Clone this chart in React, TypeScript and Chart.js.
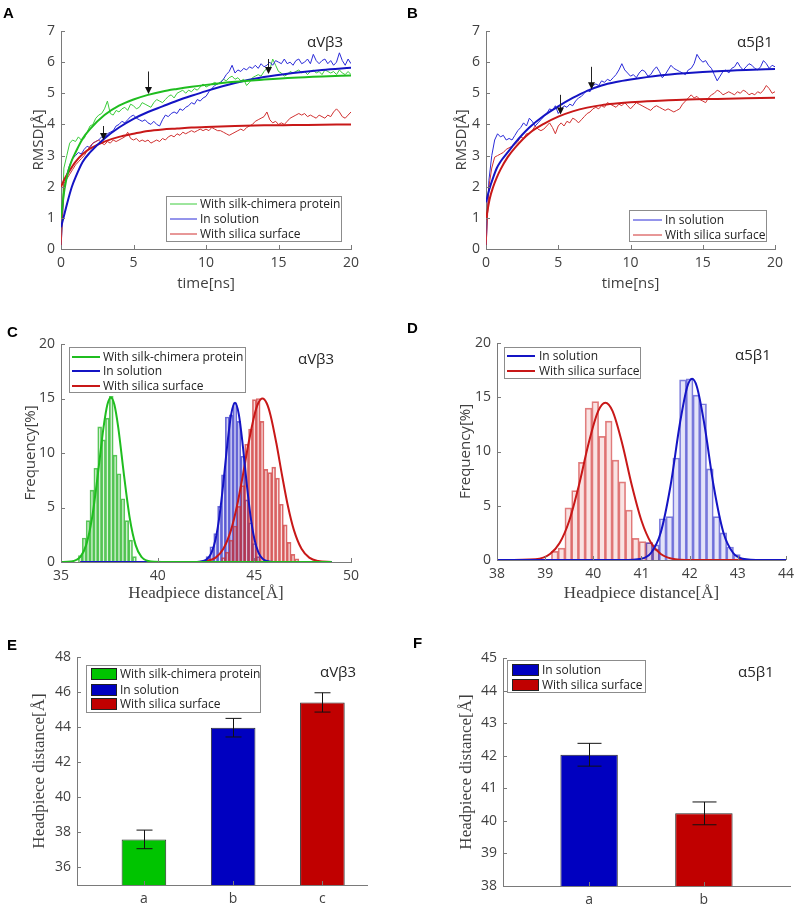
import React, { useEffect, useRef } from "react";
import { Chart, registerables } from "chart.js";

Chart.register(...registerables);

// ---------------- text ----------------
const SERIES_SILK = "With silk-chimera protein";
const SERIES_SOL = "In solution";
const SERIES_SILICA = "With silica surface";
const TAG_V3 = "αVβ3";
const TAG_51 = "α5β1";
const TITLE_TIME = "time[ns]";
const TITLE_RMSD = "RMSD[Å]";
const TITLE_FREQ = "Frequency[%]";
const TITLE_DIST = "Headpiece distance[Å]";

// ---------------- ticks ----------------
const timeTicks = [0, 5, 10, 15, 20];
const rmsdTicks = [0, 1, 2, 3, 4, 5, 6, 7];
const freqTicks = [0, 5, 10, 15, 20];
const distTicksC = [35, 40, 45, 50];
const distTicksD = [38, 39, 40, 41, 42, 43, 44];
const headTicksE = [36, 38, 40, 42, 44, 46, 48];
const headTicksF = [38, 39, 40, 41, 42, 43, 44, 45];
const barPosE = [1, 2, 3];
const barLabelsE = ["a", "b", "c"];
const barPosF = [1, 2];
const barLabelsF = ["a", "b"];

// ---------------- A / B : RMSD time series ----------------
const time = [
  0, 0.2, 0.4, 0.6, 0.8, 1, 1.2, 1.4, 1.6, 1.8,
  2, 2.2, 2.4, 2.6, 2.8, 3, 3.2, 3.4, 3.6, 3.8,
  4, 4.2, 4.4, 4.6, 4.8, 5, 5.2, 5.4, 5.6, 5.8,
  6, 6.2, 6.4, 6.6, 6.8, 7, 7.2, 7.4, 7.6, 7.8,
  8, 8.2, 8.4, 8.6, 8.8, 9, 9.2, 9.4, 9.6, 9.8,
  10, 10.2, 10.4, 10.6, 10.8, 11, 11.2, 11.4, 11.6, 11.8,
  12, 12.2, 12.4, 12.6, 12.8, 13, 13.2, 13.4, 13.6, 13.8,
  14, 14.2, 14.4, 14.6, 14.8, 15, 15.2, 15.4, 15.6, 15.8,
  16, 16.2, 16.4, 16.6, 16.8, 17, 17.2, 17.4, 17.6, 17.8,
  18, 18.2, 18.4, 18.6, 18.8, 19, 19.2, 19.4, 19.6, 19.8,
  20,
];

const rawSilkA = [
  0, 2.6, 3.0, 3.4, 3.5, 3.45, 3.6, 3.5, 3.55, 3.75,
  3.95, 4.0, 4.2, 4.3, 4.35, 4.5, 4.75, 4.35, 4.3, 4.45,
  4.4, 4.5, 4.55, 4.45, 4.65, 4.6, 4.5, 4.55, 4.7, 4.65,
  4.6, 4.55, 4.7, 4.8, 4.75, 4.7, 4.8, 4.9, 4.95, 4.85,
  5.0, 5.05, 5.1, 5.0, 5.1, 5.05, 5.15, 5.1, 5.2, 5.3,
  5.2, 5.25, 5.3, 5.35, 5.3, 5.35, 5.45, 5.4, 5.5, 5.55,
  5.45, 5.5, 5.4, 5.45, 5.25, 5.35, 5.5, 5.55, 5.6, 5.55,
  5.7, 5.8, 5.75, 6.1, 5.9, 5.7, 5.65, 5.55, 5.6, 5.7,
  5.65, 5.7, 5.75, 5.65, 5.7, 5.6, 5.7, 5.75, 5.65, 5.7,
  5.6, 5.75, 5.7, 5.65, 5.7, 5.6, 5.75, 5.65, 5.6, 5.7,
  5.6,
];
const rawSolA = [
  0, 1.9, 2.4, 2.7, 2.9, 3.0, 3.1, 3.05, 3.2, 3.3,
  3.25, 3.4, 3.45, 3.5, 3.6, 3.55, 3.7, 3.75, 3.8, 3.95,
  4.0, 4.1, 4.05, 4.15, 4.25, 4.3, 4.2, 4.15, 4.1, 4.15,
  4.05, 4.0, 4.1, 4.0, 3.95, 4.15, 4.3, 4.25, 4.35, 4.4,
  4.35, 4.5, 4.45, 4.55, 4.6, 4.7, 4.65, 4.8, 4.75, 4.85,
  4.9, 5.05, 5.15, 5.25, 5.3, 5.35, 5.45, 5.6, 5.7, 5.9,
  5.65, 5.75, 5.7, 5.8, 5.75, 5.85, 5.8, 5.9, 5.8, 5.95,
  5.85, 5.9, 6.0, 5.9, 6.05, 6.0, 5.95, 6.1, 5.95, 6.0,
  5.9, 6.05, 6.1, 5.95, 6.0, 6.1, 5.95, 6.25, 6.05, 5.95,
  6.05, 6.1, 5.95, 6.05, 5.9, 6.0, 6.3, 6.05, 5.9, 6.1,
  5.95,
];
const rawSilicaA = [
  0, 2.1, 2.25, 2.4, 2.55, 2.7, 2.8, 2.9, 3.0, 3.15,
  3.3, 3.4, 3.45, 3.5, 3.4, 3.35, 3.45, 3.4, 3.5, 3.45,
  3.5, 3.55, 3.6, 3.75, 3.55, 3.5, 3.55, 3.45, 3.5, 3.45,
  3.5, 3.4, 3.45, 3.5, 3.45, 3.55, 3.5, 3.6, 3.65, 3.6,
  3.7, 3.65, 3.75, 3.7, 3.75, 3.8, 3.75, 3.8, 3.85, 3.8,
  3.85, 3.8, 3.9, 3.85, 3.8, 3.8, 3.75, 3.7, 3.65, 3.7,
  3.75, 3.8, 3.85, 3.8, 3.9, 3.95, 4.0, 4.1, 4.15, 4.2,
  4.25, 4.4, 4.15, 4.05, 4.1, 4.0, 4.05, 4.0, 4.1, 4.2,
  4.25, 4.3, 4.35, 4.3, 4.35, 4.25, 4.3, 4.25, 4.2, 4.3,
  4.25, 4.2, 4.3, 4.25, 4.4, 4.5, 4.4, 4.25, 4.2, 4.3,
  4.4,
];
const rawSolB = [
  0, 2.2, 3.0, 3.5, 3.7, 3.6, 3.65, 3.5, 3.55, 3.5,
  3.65, 3.8, 3.9, 4.05, 3.95, 4.2, 4.1, 3.95, 4.05, 4.15,
  4.25, 4.35, 4.5, 4.45, 4.6, 4.35, 4.5, 4.6, 4.55, 4.65,
  4.6, 4.75, 4.85, 4.9, 5.0, 5.1, 5.05, 5.25, 5.3, 5.25,
  5.4, 5.35, 5.45, 5.4, 5.5, 5.6, 5.75, 5.95, 5.75, 5.65,
  5.55, 5.6, 5.5, 5.65, 5.75, 5.7, 5.55, 5.6, 5.75, 5.85,
  5.7, 5.5, 5.6, 5.75, 5.9, 5.8, 5.75, 5.7, 5.65, 5.6,
  5.75, 5.8, 5.95, 6.25, 6.1, 6.0, 6.05, 5.9, 5.8, 5.6,
  5.4, 5.55, 5.7, 5.75, 5.65, 5.8, 5.85, 6.0, 5.85, 5.75,
  5.85, 5.95, 5.9, 5.8, 5.75, 5.85, 6.05, 5.95, 5.8, 5.9,
  5.85,
];
const rawSilicaB = [
  0, 2.0, 2.6, 2.95, 3.0, 3.05, 3.1, 3.2, 3.25, 3.3,
  3.35, 3.45, 3.6, 3.55, 3.7, 3.7, 3.8, 3.95, 3.85, 3.8,
  3.85, 3.95, 4.05, 3.9, 3.7, 3.95, 4.05, 3.95, 4.1, 4.05,
  4.2, 4.15, 4.05, 4.15, 4.25, 4.35, 4.4, 4.5, 4.55, 4.5,
  4.6, 4.55, 4.7, 4.65, 4.6, 4.55, 4.65, 4.6, 4.7, 4.6,
  4.5, 4.6, 4.7, 4.65, 4.6, 4.55, 4.5, 4.45, 4.55, 4.6,
  4.55, 4.5, 4.45, 4.5, 4.45, 4.4, 4.45, 4.5, 4.65, 4.75,
  4.85, 4.95, 4.85, 4.9, 4.8, 4.75, 4.7, 4.85, 4.95, 5.0,
  5.1, 5.05, 4.95, 5.0, 5.05, 5.0, 4.95, 5.05, 5.0, 5.1,
  5.05, 4.95, 5.0, 4.95, 5.05, 5.0, 5.1, 5.25, 5.15, 5.0,
  5.05,
];

const fitTime = [0, 0.25, 0.5, 0.75, 1, 1.5, 2, 3, 4, 5, 6, 7, 8, 9, 10, 12, 14, 16, 18, 20];
const fitSilkA = [1.0, 1.95, 2.5, 2.85, 3.1, 3.55, 3.85, 4.3, 4.6, 4.8, 4.95, 5.06, 5.14, 5.21, 5.27, 5.37, 5.44, 5.5, 5.54, 5.57];
const fitSolA = [0.7, 1.15, 1.6, 2.0, 2.3, 2.8, 3.1, 3.55, 3.9, 4.18, 4.4, 4.58, 4.76, 4.92, 5.07, 5.33, 5.52, 5.65, 5.75, 5.82];
const fitSilicaA = [2.0, 2.25, 2.45, 2.63, 2.8, 3.05, 3.22, 3.45, 3.6, 3.7, 3.79, 3.84, 3.87, 3.9, 3.92, 3.95, 3.97, 3.98, 3.99, 4.0];
const fitSolB = [1.5, 1.95, 2.3, 2.6, 2.8, 3.1, 3.4, 3.9, 4.28, 4.58, 4.85, 5.08, 5.25, 5.36, 5.44, 5.57, 5.65, 5.71, 5.75, 5.78];
const fitSilicaB = [0.95, 1.6, 2.0, 2.3, 2.55, 2.95, 3.25, 3.72, 4.02, 4.25, 4.42, 4.54, 4.62, 4.67, 4.71, 4.76, 4.8, 4.82, 4.84, 4.86];

// arrow markers (time, from RMSD, to RMSD)
const arrowTimeA = [2.9, 6, 14.3];
const arrowFromA = [3.95, 5.7, 6.1];
const arrowToA = [3.5, 4.98, 5.62];
const arrowTimeB = [5.1, 7.3];
const arrowFromB = [4.95, 5.85];
const arrowToB = [4.32, 5.13];

// ---------------- C : histograms αVβ3 ----------------
const binSilkC = [36.0, 36.2, 36.4, 36.6, 36.8, 37.0, 37.2, 37.4, 37.6, 37.8, 38.0, 38.2, 38.4, 38.6, 38.8];
const freqSilkC = [0.6, 2.2, 3.8, 6.6, 8.6, 12.4, 11.2, 13.2, 15.2, 9.8, 8.1, 5.8, 3.8, 2.0, 0.5];
const binSolC = [42.6, 42.8, 43.0, 43.2, 43.4, 43.6, 43.8, 44.0, 44.2, 44.4, 44.6, 44.8, 45.0, 45.2];
const freqSolC = [0.5, 1.4, 2.6, 5.1, 8.0, 13.3, 13.5, 14.6, 12.9, 9.7, 5.7, 3.6, 1.7, 0.5];
const binSilicaC = [43.4, 43.6, 43.8, 44.0, 44.2, 44.4, 44.6, 44.8, 45.0, 45.2, 45.4, 45.6, 45.8, 46.0, 46.2, 46.4, 46.6, 46.8, 47.0, 47.2];
const freqSilicaC = [0.4, 0.9, 2.0, 3.3, 5.1, 7.0, 10.8, 12.2, 14.9, 15.0, 12.9, 8.5, 8.2, 8.7, 7.7, 5.3, 3.4, 1.8, 0.7, 0.3];

const curveXSilkC = [35, 35.5, 36.0, 36.3, 36.6, 36.9, 37.2, 37.4, 37.58, 37.76, 37.96, 38.26, 38.56, 38.86, 39.16, 39.66, 40.5, 49];
const curveYSilkC = [0, 0.04, 0.47, 1.55, 3.98, 7.95, 12.35, 14.44, 15.1, 14.44, 12.35, 7.95, 3.98, 1.55, 0.47, 0.04, 0, 0];
const curveXSolC = [36, 41, 42.0, 42.5, 42.8, 43.0, 43.2, 43.4, 43.6, 43.8, 44.0, 44.2, 44.4, 44.6, 44.8, 45.0, 45.2, 45.5, 46.0, 47, 49];
const curveYSolC = [0, 0, 0.01, 0.19, 0.92, 2.13, 4.26, 7.3, 10.73, 13.52, 14.6, 13.52, 10.73, 7.3, 4.26, 2.13, 0.92, 0.19, 0.01, 0, 0];
const curveXSilicaC = [36, 41, 42.0, 42.5, 43.0, 43.4, 43.8, 44.1, 44.4, 44.7, 45.0, 45.2, 45.42, 45.64, 45.84, 46.14, 46.44, 46.74, 47.04, 47.44, 47.84, 48.3, 49];
const curveYSilicaC = [0, 0, 0.01, 0.08, 0.4, 1.21, 2.97, 5.11, 7.89, 10.89, 13.45, 14.56, 15.0, 14.56, 13.45, 10.89, 7.89, 5.11, 2.97, 1.21, 0.4, 0.09, 0];

// ---------------- D : histograms α5β1 ----------------
const binSilicaD = [39.2, 39.34, 39.48, 39.62, 39.76, 39.9, 40.04, 40.18, 40.32, 40.46, 40.6, 40.74, 40.88, 41.02, 41.16, 41.3];
const freqSilicaD = [0.8, 1.1, 4.8, 6.4, 9.0, 14.0, 14.6, 11.4, 12.8, 9.2, 7.2, 4.6, 2.0, 1.7, 1.6, 1.0];
const binSolD = [41.16, 41.3, 41.44, 41.58, 41.72, 41.86, 42.0, 42.14, 42.28, 42.42, 42.56, 42.7, 42.84, 42.98];
const freqSolD = [1.6, 1.4, 3.8, 4.0, 9.4, 16.6, 16.7, 15.2, 14.4, 8.4, 4.0, 2.5, 1.2, 0.5];

const curveXSilicaD = [38, 38.8, 39.1, 39.3, 39.5, 39.7, 39.9, 40.1, 40.25, 40.4, 40.6, 40.8, 41.0, 41.2, 41.4, 41.7, 42.2, 44];
const curveYSilicaD = [0, 0.08, 0.55, 1.56, 3.62, 6.87, 10.72, 13.72, 14.5, 13.72, 10.72, 6.87, 3.62, 1.56, 0.55, 0.08, 0, 0];
const curveXSolD = [38, 40.6, 41.0, 41.2, 41.4, 41.6, 41.8, 41.95, 42.05, 42.15, 42.3, 42.5, 42.7, 42.9, 43.1, 43.5, 44];
const curveYSolD = [0, 0, 0.12, 0.67, 2.54, 6.77, 12.65, 15.97, 16.7, 15.97, 12.65, 6.77, 2.54, 0.67, 0.12, 0, 0];

// ---------------- E / F : mean headpiece distance ----------------
const meanE = [37.6, 43.97, 45.41];
const errE = [0.53, 0.53, 0.55];
const meanF = [42.03, 40.23];
const errF = [0.35, 0.35];

// ---------------- styles ----------------
const SANS = "'Open Sans', 'DejaVu Sans', sans-serif";
const SERIF = "'Liberation Serif', 'DejaVu Serif', serif";
const LETTER_FONT = "'Liberation Sans', Arial, sans-serif";
const AXIS = "#7a7a7a";
const TEXT = "#404040";

const GREEN_RAW = "#3ccc3c";
const BLUE_RAW = "#2a2ad8";
const RED_RAW = "#d03030";
const GREEN_FIT = "#1fbd1f";
const BLUE_FIT = "#1414c4";
const RED_FIT = "#c81818";
const GREEN_BAR = "#00c400";
const BLUE_BAR = "#0000c0";
const RED_BAR = "#c00000";

const sansTitle = { family: SANS, size: 15 };
const serifTitle = { family: SERIF, size: 17 };

const xy = (xs: number[], ys: number[]) => xs.map((x, i) => ({ x, y: ys[i] }));

function baseOptions(top: number, right: number) {
  return {
    responsive: false,
    animation: false,
    events: [],
    layout: { padding: { left: 0, top, right, bottom: 0 } },
    plugins: { legend: { display: false }, tooltip: { enabled: false }, title: { display: false } },
    elements: { point: { radius: 0 } },
  };
}

function axis(o: any) {
  return {
    type: "linear",
    min: o.min,
    max: o.max,
    offset: false,
    afterBuildTicks: (s: any) => {
      s.ticks = o.ticks.map((v: number) => ({ value: v }));
    },
    afterFit: (s: any) => {
      if (o.axis === "x") s.height = o.size;
      else s.width = o.size;
    },
    grid: { display: false, drawTicks: false, tickLength: 0 },
    border: { display: true, color: AXIS, width: 1 },
    ticks: {
      color: TEXT,
      font: { family: SANS, size: 14 },
      padding: o.axis === "x" ? 6 : 6,
      maxRotation: 0,
      autoSkip: false,
      callback: (v: number) => {
        if (o.labels) {
          const i = o.ticks.indexOf(v);
          return i >= 0 ? o.labels[i] : "";
        }
        return String(v);
      },
    },
    title: o.title
      ? {
          display: true,
          text: o.title,
          color: TEXT,
          font: o.titleFont,
          padding: o.axis === "x" ? { top: 0, bottom: o.titlePad } : { top: o.titlePad, bottom: 0 },
        }
      : { display: false },
  };
}

function rawLine(label: string, xs: number[], ys: number[], color: string, order: number) {
  return { type: "line", label, data: xy(xs, ys), borderColor: color, borderWidth: 1, pointRadius: 0, tension: 0, fill: false, order };
}
function fitLine(label: string, xs: number[], ys: number[], color: string, order: number) {
  return { type: "line", label, data: xy(xs, ys), borderColor: color, borderWidth: 2, pointRadius: 0, cubicInterpolationMode: "monotone", fill: false, order };
}
function hist(label: string, xs: number[], ys: number[], stroke: string, fillc: string, order: number) {
  return {
    type: "bar",
    label,
    data: xy(xs, ys),
    backgroundColor: fillc,
    borderColor: stroke,
    borderWidth: 1,
    grouped: false,
    barPercentage: 1,
    categoryPercentage: 1,
    order,
  };
}

function makeDecor(d: any) {
  return {
    id: "decor",
    afterDatasetsDraw(chart: any) {
      const ctx = chart.ctx;
      const xs = chart.scales.x;
      const ys = chart.scales.y;
      ctx.save();
      if (d.err) {
        ctx.strokeStyle = "#111";
        ctx.lineWidth = 1;
        d.err.xs.forEach((xv: number, i: number) => {
          const px = Math.round(xs.getPixelForValue(xv)) + 0.5;
          const pt = ys.getPixelForValue(d.err.ys[i] + d.err.e[i]);
          const pb = ys.getPixelForValue(d.err.ys[i] - d.err.e[i]);
          ctx.beginPath();
          ctx.moveTo(px, pt);
          ctx.lineTo(px, pb);
          ctx.moveTo(px - d.err.cap, pt);
          ctx.lineTo(px + d.err.cap, pt);
          ctx.moveTo(px - d.err.cap, pb);
          ctx.lineTo(px + d.err.cap, pb);
          ctx.stroke();
        });
      }
      if (d.arrows) {
        d.arrows.t.forEach((tv: number, i: number) => {
          const px = Math.round(xs.getPixelForValue(tv)) + 0.5;
          const p1 = ys.getPixelForValue(d.arrows.from[i]);
          const p2 = ys.getPixelForValue(d.arrows.to[i]);
          ctx.strokeStyle = "#222";
          ctx.fillStyle = "#111";
          ctx.lineWidth = 1;
          ctx.beginPath();
          ctx.moveTo(px, p1);
          ctx.lineTo(px, p2 - 5);
          ctx.stroke();
          ctx.beginPath();
          ctx.moveTo(px - 3.5, p2 - 7);
          ctx.lineTo(px + 3.5, p2 - 7);
          ctx.lineTo(px, p2);
          ctx.closePath();
          ctx.fill();
        });
      }
      ctx.restore();
    },
    afterDraw(chart: any) {
      const ctx = chart.ctx;
      const area = chart.chartArea;
      const xs = chart.scales.x;
      const ys = chart.scales.y;
      ctx.save();
      ctx.strokeStyle = AXIS;
      ctx.lineWidth = 1;
      ctx.beginPath();
      ys.ticks.forEach((t: any) => {
        const py = Math.round(ys.getPixelForValue(t.value)) + 0.5;
        ctx.moveTo(area.left, py);
        ctx.lineTo(area.left + 4, py);
      });
      xs.ticks.forEach((t: any) => {
        const px = Math.round(xs.getPixelForValue(t.value)) + 0.5;
        ctx.moveTo(px, area.bottom);
        ctx.lineTo(px, area.bottom - 4);
      });
      ctx.stroke();

      ctx.fillStyle = "#000";
      ctx.font = `bold 15px ${LETTER_FONT}`;
      ctx.textAlign = "left";
      ctx.textBaseline = "alphabetic";
      ctx.fillText(d.letter, d.lx, d.ly);

      ctx.fillStyle = "#262626";
      ctx.font = `15px ${SANS}`;
      ctx.textBaseline = "middle";
      ctx.fillText(d.tag, d.tx, d.ty);

      const L = d.legend;
      ctx.fillStyle = "#fff";
      ctx.fillRect(L.x, L.y, L.w, L.h);
      ctx.strokeStyle = "#8c8c8c";
      ctx.lineWidth = 1;
      ctx.strokeRect(L.x + 0.5, L.y + 0.5, L.w, L.h);
      L.items.forEach((it: any, i: number) => {
        const y = L.rows[i];
        if (L.kind === "patch") {
          ctx.fillStyle = it.color;
          ctx.fillRect(L.sx0, y - L.ph / 2, L.sx1 - L.sx0, L.ph);
          ctx.strokeStyle = "#222";
          ctx.lineWidth = 1;
          ctx.strokeRect(L.sx0 + 0.5, y - L.ph / 2 + 0.5, L.sx1 - L.sx0 - 1, L.ph - 1);
        } else {
          ctx.strokeStyle = it.color;
          ctx.lineWidth = L.lw;
          ctx.beginPath();
          ctx.moveTo(L.sx0, y);
          ctx.lineTo(L.sx1, y);
          ctx.stroke();
        }
        ctx.fillStyle = "#222";
        ctx.font = `12px ${SANS}`;
        ctx.textBaseline = "middle";
        ctx.fillText(it.label, L.tx, y + 0.5);
      });
      ctx.restore();
    },
  };
}

// ---------------- panels ----------------
function makeA() {
  return {
    type: "line",
    data: {
      datasets: [
        fitLine(SERIES_SILK, fitTime, fitSilkA, GREEN_FIT, 0),
        fitLine(SERIES_SOL, fitTime, fitSolA, BLUE_FIT, 0),
        fitLine(SERIES_SILICA, fitTime, fitSilicaA, RED_FIT, 0),
        rawLine(SERIES_SILK, time, rawSilkA, GREEN_RAW, 3),
        rawLine(SERIES_SOL, time, rawSolA, BLUE_RAW, 2),
        rawLine(SERIES_SILICA, time, rawSilicaA, RED_RAW, 1),
      ],
    },
    options: {
      ...baseOptions(31, 49),
      scales: {
        x: axis({ axis: "x", min: 0, max: 20, ticks: timeTicks, size: 51, title: TITLE_TIME, titleFont: sansTitle, titlePad: 7 }),
        y: axis({ axis: "y", min: 0, max: 7, ticks: rmsdTicks, size: 61, title: TITLE_RMSD, titleFont: sansTitle, titlePad: 29.5 }),
      },
    },
    plugins: [
      makeDecor({
        letter: "A", lx: 3, ly: 18,
        tag: TAG_V3, tx: 307, ty: 43,
        arrows: { t: arrowTimeA, from: arrowFromA, to: arrowToA },
        legend: {
          x: 166, y: 196, w: 175, h: 45, rows: [204, 219, 234], sx0: 170, sx1: 197, tx: 200, kind: "line", lw: 1,
          items: [
            { label: SERIES_SILK, color: GREEN_RAW },
            { label: SERIES_SOL, color: BLUE_RAW },
            { label: SERIES_SILICA, color: RED_RAW },
          ],
        },
      }),
    ],
  };
}

function makeB() {
  return {
    type: "line",
    data: {
      datasets: [
        fitLine(SERIES_SOL, fitTime, fitSolB, BLUE_FIT, 0),
        fitLine(SERIES_SILICA, fitTime, fitSilicaB, RED_FIT, 0),
        rawLine(SERIES_SOL, time, rawSolB, BLUE_RAW, 2),
        rawLine(SERIES_SILICA, time, rawSilicaB, RED_RAW, 1),
      ],
    },
    options: {
      ...baseOptions(31, 25),
      scales: {
        x: axis({ axis: "x", min: 0, max: 20, ticks: timeTicks, size: 51, title: TITLE_TIME, titleFont: sansTitle, titlePad: 7 }),
        y: axis({ axis: "y", min: 0, max: 7, ticks: rmsdTicks, size: 86, title: TITLE_RMSD, titleFont: sansTitle, titlePad: 52.5 }),
      },
    },
    plugins: [
      makeDecor({
        letter: "B", lx: 7, ly: 18,
        tag: TAG_51, tx: 337, ty: 43,
        arrows: { t: arrowTimeB, from: arrowFromB, to: arrowToB },
        legend: {
          x: 229, y: 210, w: 137, h: 31, rows: [220, 235], sx0: 233, sx1: 262, tx: 265, kind: "line", lw: 1,
          items: [
            { label: SERIES_SOL, color: BLUE_RAW },
            { label: SERIES_SILICA, color: RED_RAW },
          ],
        },
      }),
    ],
  };
}

function makeC() {
  return {
    type: "bar",
    data: {
      datasets: [
        fitLine(SERIES_SILK, curveXSilkC, curveYSilkC, GREEN_FIT, 0),
        fitLine(SERIES_SOL, curveXSolC, curveYSolC, BLUE_FIT, 1),
        fitLine(SERIES_SILICA, curveXSilicaC, curveYSilicaC, RED_FIT, 2),
        hist(SERIES_SILK, binSilkC, freqSilkC, "rgba(50,185,50,0.8)", "rgba(50,185,50,0.16)", 5),
        hist(SERIES_SOL, binSolC, freqSolC, "rgba(45,45,200,0.7)", "rgba(45,45,200,0.14)", 4),
        hist(SERIES_SILICA, binSilicaC, freqSilicaC, "rgba(205,45,45,0.7)", "rgba(205,45,45,0.14)", 3),
      ],
    },
    options: {
      ...baseOptions(44, 49),
      scales: {
        x: axis({ axis: "x", min: 35, max: 50, ticks: distTicksC, size: 58, title: TITLE_DIST, titleFont: serifTitle, titlePad: 15.8 }),
        y: axis({ axis: "y", min: 0, max: 20, ticks: freqTicks, size: 61, title: TITLE_FREQ, titleFont: sansTitle, titlePad: 22 }),
      },
    },
    plugins: [
      makeDecor({
        letter: "C", lx: 7, ly: 37,
        tag: TAG_V3, tx: 298, ty: 60,
        legend: {
          x: 69, y: 47, w: 176, h: 45, rows: [57, 71, 86], sx0: 72, sx1: 100, tx: 103, kind: "line", lw: 2,
          items: [
            { label: SERIES_SILK, color: GREEN_FIT },
            { label: SERIES_SOL, color: BLUE_FIT },
            { label: SERIES_SILICA, color: RED_FIT },
          ],
        },
      }),
    ],
  };
}

function makeD() {
  return {
    type: "bar",
    data: {
      datasets: [
        fitLine(SERIES_SOL, curveXSolD, curveYSolD, BLUE_FIT, 0),
        fitLine(SERIES_SILICA, curveXSilicaD, curveYSilicaD, RED_FIT, 1),
        hist(SERIES_SOL, binSolD, freqSolD, "rgba(60,60,205,0.65)", "rgba(60,60,205,0.14)", 3),
        hist(SERIES_SILICA, binSilicaD, freqSilicaD, "rgba(210,60,60,0.65)", "rgba(210,60,60,0.14)", 4),
      ],
    },
    options: {
      ...baseOptions(43, 13),
      scales: {
        x: axis({ axis: "x", min: 38, max: 44, ticks: distTicksD, size: 60, title: TITLE_DIST, titleFont: serifTitle, titlePad: 15.8 }),
        y: axis({ axis: "y", min: 0, max: 20, ticks: freqTicks, size: 97, title: TITLE_FREQ, titleFont: sansTitle, titlePad: 57 }),
      },
    },
    plugins: [
      makeDecor({
        letter: "D", lx: 7, ly: 33,
        tag: TAG_51, tx: 335, ty: 56,
        legend: {
          x: 104, y: 47, w: 136, h: 31, rows: [56, 71], sx0: 107, sx1: 135, tx: 139, kind: "line", lw: 2,
          items: [
            { label: SERIES_SOL, color: BLUE_FIT },
            { label: SERIES_SILICA, color: RED_FIT },
          ],
        },
      }),
    ],
  };
}

function makeE() {
  return {
    type: "bar",
    data: {
      datasets: [
        {
          type: "bar",
          label: "mean",
          data: xy(barPosE, meanE),
          backgroundColor: [GREEN_BAR, BLUE_BAR, RED_BAR],
          borderColor: "#2a2a2a",
          borderWidth: 1,
          barPercentage: 0.5,
          categoryPercentage: 1,
        },
      ],
    },
    options: {
      ...baseOptions(37, 33),
      scales: {
        x: axis({ axis: "x", min: 0.25, max: 3.5, ticks: barPosE, labels: barLabelsE, size: 23 }),
        y: axis({ axis: "y", min: 35, max: 48, ticks: headTicksE, size: 77, title: TITLE_DIST, titleFont: serifTitle, titlePad: 29.8 }),
      },
    },
    plugins: [
      makeDecor({
        letter: "E", lx: 7, ly: 30,
        tag: TAG_V3, tx: 320, ty: 53,
        err: { xs: barPosE, ys: meanE, e: errE, cap: 8 },
        legend: {
          x: 86, y: 45, w: 174, h: 47, rows: [54, 70, 84], sx0: 91, sx1: 117, tx: 120, kind: "patch", ph: 12,
          items: [
            { label: SERIES_SILK, color: GREEN_BAR },
            { label: SERIES_SOL, color: BLUE_BAR },
            { label: SERIES_SILICA, color: RED_BAR },
          ],
        },
      }),
    ],
  };
}

function makeF() {
  return {
    type: "bar",
    data: {
      datasets: [
        {
          type: "bar",
          label: "mean",
          data: xy(barPosF, meanF),
          backgroundColor: [BLUE_BAR, RED_BAR],
          borderColor: "#2a2a2a",
          borderWidth: 1,
          barPercentage: 0.5,
          categoryPercentage: 1,
        },
      ],
    },
    options: {
      ...baseOptions(38, 10),
      scales: {
        x: axis({ axis: "x", min: 0.25, max: 2.75, ticks: barPosF, labels: barLabelsF, size: 22 }),
        y: axis({ axis: "y", min: 38, max: 45, ticks: headTicksF, size: 103, title: TITLE_DIST, titleFont: serifTitle, titlePad: 56.8 }),
      },
    },
    plugins: [
      makeDecor({
        letter: "F", lx: 13, ly: 28,
        tag: TAG_51, tx: 338, ty: 53,
        err: { xs: barPosF, ys: meanF, e: errF, cap: 12 },
        legend: {
          x: 107, y: 40, w: 138, h: 32, rows: [50, 65], sx0: 112, sx1: 139, tx: 142, kind: "patch", ph: 12,
          items: [
            { label: SERIES_SOL, color: BLUE_BAR },
            { label: SERIES_SILICA, color: RED_BAR },
          ],
        },
      }),
    ],
  };
}

function ChartPanel(props: { left: number; top: number; width: number; height: number; make: () => any }) {
  const ref = useRef<HTMLCanvasElement | null>(null);
  useEffect(() => {
    if (!ref.current) return;
    const chart = new Chart(ref.current, props.make());
    return () => chart.destroy();
  }, []);
  return (
    <canvas
      ref={ref}
      width={props.width}
      height={props.height}
      style={{ position: "absolute", left: props.left, top: props.top, width: props.width, height: props.height }}
    />
  );
}

export default function App() {
  return (
    <div style={{ position: "fixed", left: 0, top: 0, width: 800, height: 908, background: "#fff", overflow: "hidden" }}>
      <ChartPanel left={0} top={0} width={400} height={300} make={makeA} />
      <ChartPanel left={400} top={0} width={400} height={300} make={makeB} />
      <ChartPanel left={0} top={300} width={400} height={320} make={makeC} />
      <ChartPanel left={400} top={300} width={400} height={320} make={makeD} />
      <ChartPanel left={0} top={620} width={400} height={288} make={makeE} />
      <ChartPanel left={400} top={620} width={400} height={288} make={makeF} />
    </div>
  );
}
